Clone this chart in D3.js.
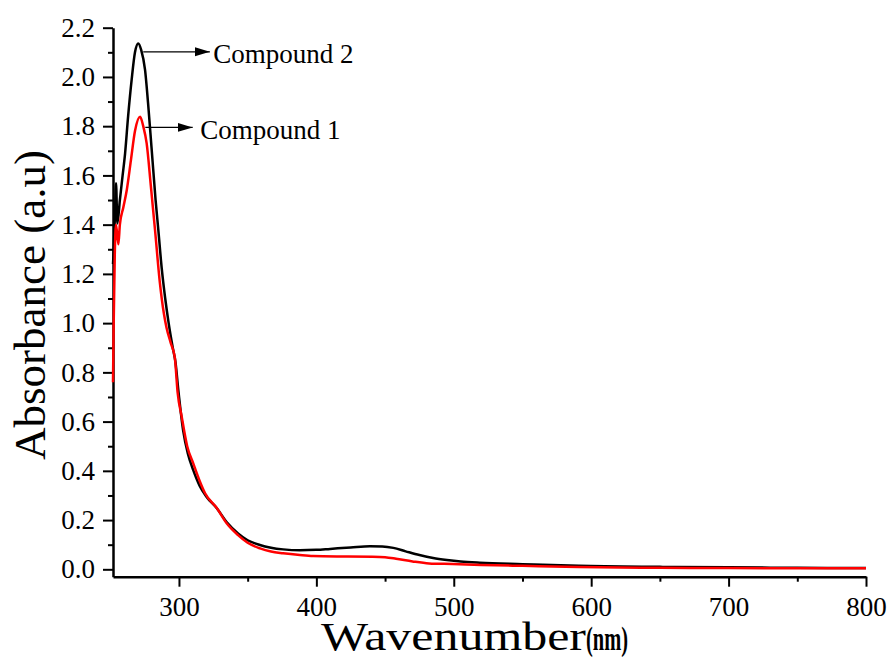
<!DOCTYPE html>
<html>
<head>
<meta charset="utf-8">
<script src="https://cdn.jsdelivr.net/npm/d3@7"></script>
<style>
  html, body { margin: 0; padding: 0; background: #fff; }
  svg { display: block; }
  text { font-family: "Liberation Serif", "Times New Roman", serif; fill: #000; }
</style>
</head>
<body>
<svg id="chart" width="889" height="664"></svg>
<script>
// Compound 2 (black)
var c2Wl = [252, 252.2, 253.3, 254.2, 255.2, 257, 259, 260.8, 263, 265.6, 268, 270.4, 272.5, 275.3, 278, 280, 283, 285, 287.5, 290, 292.5, 295.5, 297.5, 299.5, 303, 306.5, 310.4, 315, 320, 327.4, 335, 343, 350, 358.9, 367, 375.8, 388, 400, 410, 425, 439, 448, 456, 465, 475, 485, 495, 505, 519, 550, 591, 650, 700, 750, 800];
var c2Abs = [1.24, 1.26, 1.42, 1.568, 1.405, 1.50, 1.60, 1.69, 1.84, 1.99, 2.10, 2.136, 2.11, 2.03, 1.86, 1.716, 1.50, 1.378, 1.22, 1.10, 1.00, 0.90, 0.84, 0.73, 0.566, 0.47, 0.403, 0.34, 0.295, 0.249, 0.19, 0.146, 0.118, 0.099, 0.088, 0.081, 0.077, 0.079, 0.083, 0.089, 0.094, 0.093, 0.087, 0.073, 0.058, 0.046, 0.038, 0.032, 0.027, 0.021, 0.014, 0.010, 0.008, 0.006, 0.005];

// Compound 1 (red)
var c1Wl = [252, 252.5, 253.3, 254.2, 255.9, 257, 259.5, 262, 265, 268, 271.7, 274, 276.5, 279.5, 282.6, 286, 289, 291, 294, 297, 299, 302, 306, 310.4, 315, 319, 327.4, 335, 343, 350, 359, 367, 375.8, 388, 397.6, 420, 441, 450, 458, 470, 482, 499, 520, 550, 591, 650, 700, 750, 800];
var c1Abs = [0.76, 1.0, 1.28, 1.40, 1.32, 1.40, 1.47, 1.54, 1.66, 1.78, 1.838, 1.80, 1.73, 1.56, 1.378, 1.17, 1.04, 0.98, 0.92, 0.86, 0.72, 0.62, 0.50, 0.43, 0.36, 0.309, 0.25, 0.185, 0.139, 0.108, 0.085, 0.072, 0.065, 0.058, 0.054, 0.052, 0.051, 0.049, 0.043, 0.032, 0.024, 0.0215, 0.018, 0.014, 0.009, 0.006, 0.005, 0.004, 0.004];

var xTicks = [300, 400, 500, 600, 700, 800];
var xMinor = [350, 450, 550, 650, 750];
var yTicks = [0.0, 0.2, 0.4, 0.6, 0.8, 1.0, 1.2, 1.4, 1.6, 1.8, 2.0, 2.2];
var yMinor = [0.1, 0.3, 0.5, 0.7, 0.9, 1.1, 1.3, 1.5, 1.7, 1.9, 2.1];

// annotation arrows
var notes = [
  { from: 274, to: 322.5, y: 2.102, label: 'Compound 2', lx: 325 },
  { from: 275.5, to: 310, y: 1.795, label: 'Compound 1', lx: 315.5 }
];

var serif = '"Liberation Serif", "Times New Roman", serif';
var svg = d3.select('#chart');

var x = d3.scaleLinear().domain([252, 800]).range([113, 866]);
var y = d3.scaleLinear().domain([-0.03, 2.2]).range([576.7, 27.7]);

// axes
svg.append('g')
    .attr('transform', 'translate(0,' + y(-0.03) + ')')
    .call(d3.axisBottom(x).tickValues(xTicks).tickSize(10).tickSizeOuter(0).tickPadding(10).tickFormat(d3.format('d')));
svg.append('g')
    .attr('transform', 'translate(0,' + y(-0.03) + ')')
    .call(d3.axisBottom(x).tickValues(xMinor).tickSize(5).tickFormat(''))
    .select('.domain').remove();

svg.append('g')
    .attr('transform', 'translate(' + x(252) + ',0)')
    .call(d3.axisLeft(y).tickValues(yTicks).tickSize(10).tickSizeOuter(0).tickPadding(8).tickFormat(d3.format('.1f')));
svg.append('g')
    .attr('transform', 'translate(' + x(252) + ',0)')
    .call(d3.axisLeft(y).tickValues(yMinor).tickSize(5).tickFormat(''))
    .select('.domain').remove();

svg.selectAll('g').attr('font-family', serif);
svg.selectAll('.domain').attr('stroke', '#000').attr('stroke-width', 2.5);
svg.selectAll('.tick line').attr('stroke', '#000').attr('stroke-width', 2);
svg.selectAll('.tick text')
    .style('font-family', serif)
    .attr('font-size', 27).attr('fill', '#000');

// curves
var line = d3.line()
    .x(function (d) { return x(d[0]); })
    .y(function (d) { return y(d[1]); })
    .curve(d3.curveMonotoneX);

var c2 = c2Wl.map(function (w, i) { return [w, c2Abs[i]]; });
var c1 = c1Wl.map(function (w, i) { return [w, c1Abs[i]]; });

svg.append('path').datum(c2)
    .attr('d', line).attr('fill', 'none')
    .attr('stroke', '#000').attr('stroke-width', 2.5).attr('stroke-linejoin', 'round');
svg.append('path').datum(c1)
    .attr('d', line).attr('fill', 'none')
    .attr('stroke', '#ff0000').attr('stroke-width', 2.5).attr('stroke-linejoin', 'round');

// arrows + labels
svg.append('defs').append('marker')
    .attr('id', 'head')
    .attr('markerUnits', 'userSpaceOnUse')
    .attr('markerWidth', 16).attr('markerHeight', 10)
    .attr('refX', 15).attr('refY', 5)
    .attr('orient', 'auto')
    .append('path').attr('d', 'M0,0.5 L15,5 L0,9.5 Z').attr('fill', '#000');

notes.forEach(function (n) {
    svg.append('line')
        .attr('x1', x(n.from)).attr('x2', x(n.to))
        .attr('y1', y(n.y)).attr('y2', y(n.y))
        .attr('stroke', '#000').attr('stroke-width', 1.2)
        .attr('marker-end', 'url(#head)');
    svg.append('text')
        .attr('x', x(n.lx)).attr('y', y(n.y))
        .attr('dy', '0.42em')
        .attr('font-size', 27)
        .text(n.label);
});

// axis titles
svg.append('text')
    .attr('transform', 'translate(45,305) rotate(-90)')
    .attr('text-anchor', 'middle')
    .attr('font-size', 45)
    .text('Absorbance (a.u)');

var xt = svg.append('text')
    .attr('x', 321).attr('y', 650);
xt.append('tspan')
    .attr('font-size', 40)
    .attr('textLength', 265).attr('lengthAdjust', 'spacingAndGlyphs')
    .text('Wavenumber');
xt.append('tspan')
    .attr('font-size', 33).attr('font-weight', 'bold')
    .attr('textLength', 42).attr('lengthAdjust', 'spacingAndGlyphs')
    .text('(nm)');
</script>
</body>
</html>
